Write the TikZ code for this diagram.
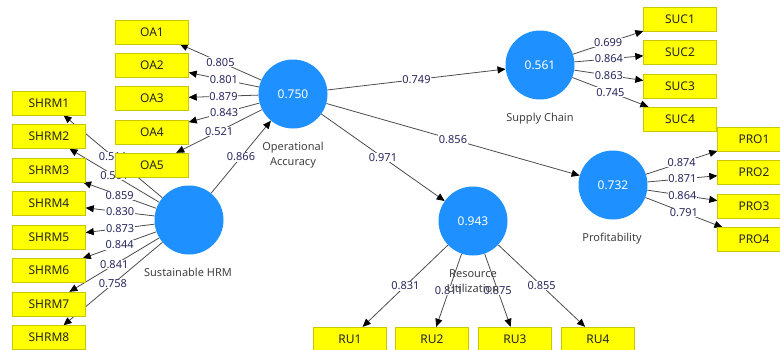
\documentclass[tikz,border=0pt]{standalone}
\usepackage{fontspec}
\setmainfont{Noto Sans}
\usetikzlibrary{arrows.meta,backgrounds}
\definecolor{lvblue}{RGB}{30,144,255}
\definecolor{mvyellow}{RGB}{255,255,0}
\definecolor{mvedge}{RGB}{200,200,0}
\definecolor{coefnavy}{RGB}{40,40,95}
\tikzset{
  mv/.style={draw=mvedge, fill=mvyellow, minimum width=73pt, minimum height=24pt,
    inner sep=0pt, text=black!85, font=\fontsize{12}{14}\selectfont},
  lv/.style={circle, fill=lvblue, minimum size=69pt, inner sep=0pt, text=white,
    font=\fontsize{12}{14}\selectfont},
  lvname/.style={align=center, text=black!75, font=\fontsize{11}{15}\selectfont},
  link/.style={draw=black!70, line width=0.8pt, -{Triangle[length=8pt,width=7pt,black]}},
  coef/.style={fill=white, inner sep=0.6pt, text=coefnavy, font=\fontsize{11}{12}\selectfont}
}
\begin{document}
\begin{tikzpicture}[x=1pt,y=-1pt]
  \path[use as bounding box, clip] (0,0) rectangle (780,349);

  \node[lv] (oa) at (293,94) {0.750};
  \node[lv] (shrm) at (189,220) {};
  \node[lv] (sc) at (540,65) {0.561};
  \node[lv] (pro) at (613,185) {0.732};
  \node[lv] (ru) at (473,221) {0.943};

  \node[mv] (oa1) at (152,32) {OA1};
  \node[mv] (oa2) at (152,65) {OA2};
  \node[mv] (oa3) at (152,98.5) {OA3};
  \node[mv] (oa4) at (152,132) {OA4};
  \node[mv] (oa5) at (152,165) {OA5};

  \node[mv] (shrm1) at (49,103) {SHRM1};
  \node[mv] (shrm2) at (49,136.5) {SHRM2};
  \node[mv] (shrm3) at (49,170) {SHRM3};
  \node[mv] (shrm4) at (49,203.5) {SHRM4};
  \node[mv] (shrm5) at (49,237) {SHRM5};
  \node[mv] (shrm6) at (49,270.5) {SHRM6};
  \node[mv] (shrm7) at (49,304) {SHRM7};
  \node[mv] (shrm8) at (49,337.5) {SHRM8};

  \node[mv] (suc1) at (680,19) {SUC1};
  \node[mv] (suc2) at (680,52.5) {SUC2};
  \node[mv] (suc3) at (680,86) {SUC3};
  \node[mv] (suc4) at (680,119) {SUC4};

  \node[mv] (pro1) at (754,139) {PRO1};
  \node[mv] (pro2) at (754,172.5) {PRO2};
  \node[mv] (pro3) at (754,206) {PRO3};
  \node[mv] (pro4) at (754,239.5) {PRO4};

  \node[mv] (ru1) at (350,339) {RU1};
  \node[mv] (ru2) at (432,339) {RU2};
  \node[mv] (ru3) at (515,339) {RU3};
  \node[mv] (ru4) at (598,339) {RU4};

  \begin{pgfonlayer}{background}
    \draw[link] (shrm) -- node[coef] {0.511} (shrm1);
    \draw[link] (shrm) -- node[coef] {0.501} (shrm2);
    \draw[link] (shrm) -- node[coef] {0.859} (shrm3);
    \draw[link] (shrm) -- node[coef] {0.830} (shrm4);
    \draw[link] (shrm) -- node[coef] {0.873} (shrm5);
    \draw[link] (shrm) -- node[coef] {0.844} (shrm6);
    \draw[link] (shrm) -- node[coef] {0.841} (shrm7);
    \draw[link] (shrm) -- node[coef] {0.758} (shrm8);

    \draw[link] (oa) -- node[coef] {0.805} (oa1);
    \draw[link] (oa) -- node[coef] {0.801} (oa2);
    \draw[link] (oa) -- node[coef] {0.879} (oa3);
    \draw[link] (oa) -- node[coef] {0.843} (oa4);
    \draw[link] (oa) -- node[coef] {0.521} (oa5);

    \draw[link] (sc) -- node[coef] {0.699} (suc1);
    \draw[link] (sc) -- node[coef] {0.864} (suc2);
    \draw[link] (sc) -- node[coef] {0.863} (suc3);
    \draw[link] (sc) -- node[coef] {0.745} (suc4);

    \draw[link] (pro) -- node[coef] {0.874} (pro1);
    \draw[link] (pro) -- node[coef] {0.871} (pro2);
    \draw[link] (pro) -- node[coef] {0.864} (pro3);
    \draw[link] (pro) -- node[coef] {0.791} (pro4);

    \draw[link] (ru) -- node[coef] {0.831} (ru1);
    \draw[link] (ru) -- node[coef] {0.811} (ru2);
    \draw[link] (ru) -- node[coef] {0.875} (ru3);
    \draw[link] (ru) -- node[coef] {0.855} (ru4);

    \draw[link] (shrm) -- node[coef] {0.866} (oa);
    \draw[link] (oa) -- node[coef] {0.749} (sc);
    \draw[link] (oa) -- node[coef] {0.856} (pro);
    \draw[link] (oa) -- node[coef] {0.971} (ru);
  \end{pgfonlayer}

  \node[lvname] (oaname) at (293,155.5) {Operational\\Accuracy};
  \node[lvname] (shrmname) at (188,272) {Sustainable HRM};
  \node[lvname] (scname) at (540,119) {Supply Chain};
  \node[lvname] (proname) at (612,239) {Profitability};
  \node[lvname] (runame) at (473,281) {Resource\\Utilization};
\end{tikzpicture}
\end{document}
